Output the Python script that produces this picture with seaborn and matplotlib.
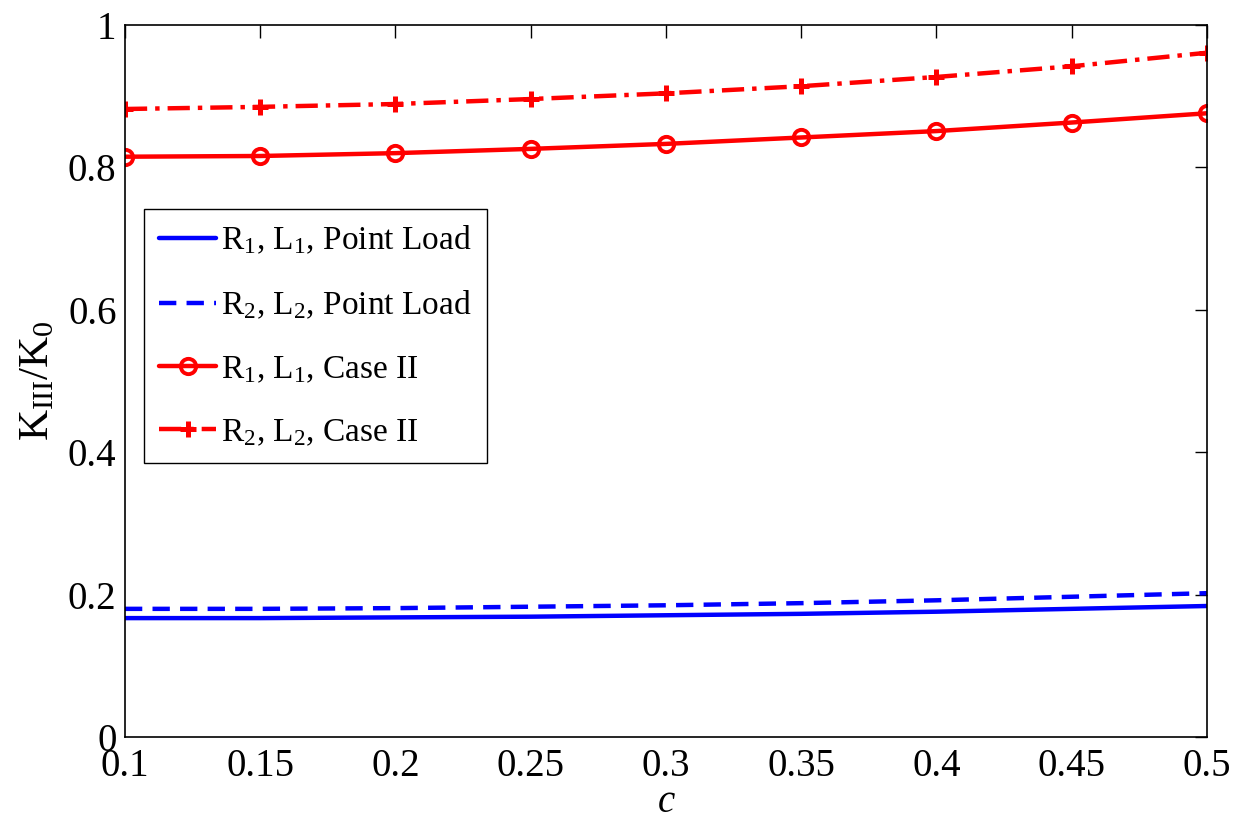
import numpy as np
import pandas as pd
import matplotlib
matplotlib.use("Agg")
import matplotlib.pyplot as plt
import seaborn as sns

# === Dados
c_vals = [0.10, 0.15, 0.20, 0.25, 0.30, 0.35, 0.40, 0.45, 0.50]
r1_point = [0.167, 0.167, 0.168, 0.169, 0.171, 0.173, 0.176, 0.180, 0.184]
r2_point = [0.180, 0.180, 0.181, 0.183, 0.185, 0.188, 0.192, 0.197, 0.202]
r1_case2 = [0.815, 0.816, 0.820, 0.826, 0.833, 0.842, 0.851, 0.863, 0.876]
r2_case2 = [0.882, 0.885, 0.889, 0.896, 0.904, 0.914, 0.927, 0.942, 0.961]

labels = [r'R$_1$, L$_1$, Point Load', r'R$_2$, L$_2$, Point Load',
          r'R$_1$, L$_1$, Case II', r'R$_2$, L$_2$, Case II']

# === Estilo
sns.set_theme(style="white")
plt.rcParams['font.family'] = ['Liberation Serif', 'DejaVu Serif']
plt.rcParams['mathtext.fontset'] = 'custom'
plt.rcParams['mathtext.rm'] = 'Liberation Serif'
plt.rcParams['mathtext.it'] = 'Liberation Serif:italic'
for k in ['text.color', 'axes.labelcolor', 'xtick.color', 'ytick.color']:
    plt.rcParams[k] = 'black'

fig = plt.figure(figsize=(12.42, 8.19), dpi=100)
ax = fig.add_axes([0.1006, 0.1001, 0.8712, 0.8694])

# estilo de cada curva (aplicado depois do lineplot)
estilos = [
    dict(color='blue', ls='-', marker=None),
    dict(color='blue', ls=(0, (3.9, 2.3)), marker=None),
    dict(color='red', ls='-', marker='o'),
    dict(color='red', ls=(0, (5, 1.8, 1, 1.8)), marker='+'),
]

linhas = []
for vals, est in zip([r1_point, r2_point, r1_case2, r2_case2], estilos):
    sns.lineplot(x=c_vals, y=vals, ax=ax, color=est['color'], lw=3.2)
    ln = ax.lines[-1]
    ln.set_linestyle(est['ls'])
    if est['marker'] == 'o':
        ln.set_marker('o')
        ln.set_markersize(11)
        ln.set_markerfacecolor('none')
        ln.set_markeredgecolor('red')
        ln.set_markeredgewidth(2.8)
    elif est['marker'] == '+':
        ln.set_marker('+')
        ln.set_markersize(12)
        ln.set_markeredgecolor('red')
        ln.set_markeredgewidth(3.6)
    linhas.append(ln)

ax.set_xlim(0.1, 0.5)
ax.set_ylim(0, 1)
ax.set_xticks(c_vals)
ax.set_xticklabels(['0.1', '0.15', '0.2', '0.25', '0.3', '0.35', '0.4', '0.45', '0.5'])
ax.set_yticks([0, 0.2, 0.4, 0.6, 0.8, 1.0])
ax.set_yticklabels(['0', '0.2', '0.4', '0.6', '0.8', '1'])
ax.tick_params(direction='in', length=9, width=1, top=True, right=True,
               labelsize=28, color='black')
ax.tick_params(axis='x', pad=8)
ax.tick_params(axis='y', pad=6)
for s in ax.spines.values():
    s.set_color('black')
    s.set_linewidth(1.2)

ax.set_xlabel(r'$c$', fontsize=28, labelpad=-1)
ax.set_ylabel(r'K$_{\rm III}$/K$_0$', fontsize=31, labelpad=8)

leg = ax.legend(linhas, labels, loc='upper left', bbox_to_anchor=(0.018, 0.742),
                borderaxespad=0, fontsize=24, handlelength=1.7, handletextpad=0.15,
                labelspacing=0.98, fancybox=False, framealpha=1, edgecolor='black',
                borderpad=0.45)
leg.get_frame().set_linewidth(1.0)

fig.savefig('out.png', dpi=100)
